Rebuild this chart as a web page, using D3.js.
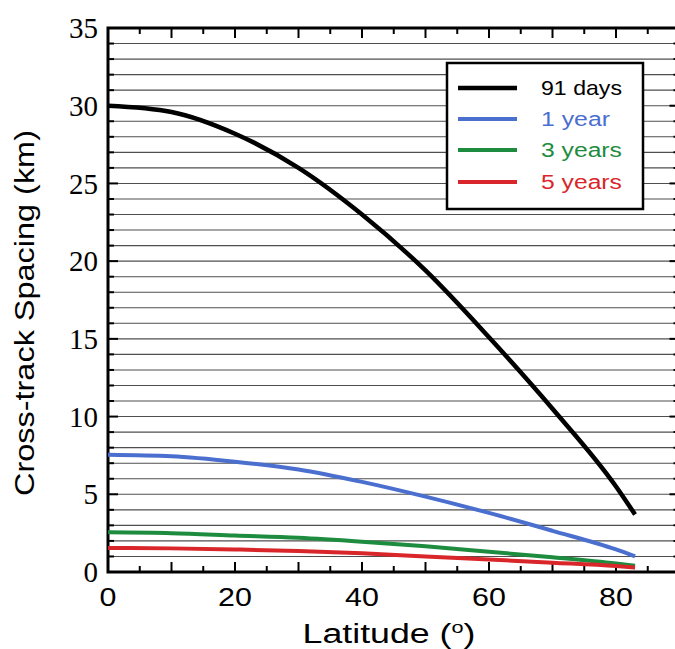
<!DOCTYPE html>
<html><head><meta charset="utf-8">
<script src="https://cdn.jsdelivr.net/npm/d3@7/dist/d3.min.js"></script>
<style>body{margin:0;background:#fff}svg{display:block}</style>
</head><body>
<script>
const latitudes = [0, 10, 20, 30, 40, 50, 60, 70, 80, 83];
const days91 = [30.0, 29.6, 28.2, 26.0, 23.0, 19.4, 15.1, 10.5, 5.5, 3.7];
const year1 = [7.55, 7.45, 7.1, 6.6, 5.8, 4.85, 3.8, 2.65, 1.45, 1.0];
const years3 = [2.55, 2.5, 2.35, 2.2, 1.95, 1.65, 1.3, 0.95, 0.55, 0.4];
const years5 = [1.55, 1.52, 1.45, 1.35, 1.2, 1.0, 0.8, 0.6, 0.38, 0.28];
const seriesNames = ["91 days", "1 year", "3 years", "5 years"];
const seriesColors = ["#000000", "#4a6fcf", "#1e8c3e", "#d9262a"];
const seriesValues = [days91, year1, years3, years5];
const xTickLabels = [0, 20, 40, 60, 80];
const yTickLabels = [0, 5, 10, 15, 20, 25, 30, 35];

const W = 675, H = 649;
const m = {left: 108, top: 28, bottom: 77};
const plotW = 571.5, plotH = H - m.top - m.bottom;
const SANS = "Liberation Sans, Arial, sans-serif";
const svg = d3.select("body").append("svg").attr("width", W).attr("height", H);
const x = d3.scaleLinear().domain([0, 90]).range([m.left, m.left + plotW]);
const y = d3.scaleLinear().domain([0, 35]).range([m.top + plotH, m.top]);

// stretch a text element horizontally (in its own frame) to a target width
function stretch(sel, tx, ty, rot, target, anchor) {
  const w = sel.node().getBBox().width;
  const s = target / w;
  sel.attr("x", 0).attr("y", 0).attr("text-anchor", anchor)
    .attr("transform", `translate(${tx},${ty}) rotate(${rot}) scale(${s},1)`);
}

// gridlines every 1 km
const grid = svg.append("g");
d3.range(1, 35).forEach(v => {
  grid.append("line").attr("x1", x(0)).attr("x2", x(90)).attr("y1", y(v)).attr("y2", y(v))
    .attr("stroke", "#4f4f4f").attr("stroke-width", 1.1);
});

// inward ticks
const ticks = svg.append("g").attr("stroke", "#000").attr("stroke-width", 2);
d3.range(0, 36).forEach(v => {
  const len = v % 5 === 0 ? 10 : 6;
  ticks.append("line").attr("x1", x(0)).attr("x2", x(0) + len).attr("y1", y(v)).attr("y2", y(v));
  ticks.append("line").attr("x1", x(90)).attr("x2", x(90) - len).attr("y1", y(v)).attr("y2", y(v));
});
d3.range(0, 91, 5).forEach(v => {
  const len = v % 10 === 0 ? 10 : 6;
  ticks.append("line").attr("x1", x(v)).attr("x2", x(v)).attr("y1", y(0)).attr("y2", y(0) - len);
  ticks.append("line").attr("x1", x(v)).attr("x2", x(v)).attr("y1", y(35)).attr("y2", y(35) + len);
});

// frame
svg.append("rect").attr("x", x(0)).attr("y", y(35)).attr("width", plotW).attr("height", plotH)
  .attr("fill", "none").attr("stroke", "#000").attr("stroke-width", 3);

// series
const line = d3.line().x((d, i) => x(latitudes[i])).y(d => y(d)).curve(d3.curveMonotoneX);
seriesValues.forEach((vals, k) => {
  svg.append("path").datum(vals).attr("d", line).attr("fill", "none")
    .attr("stroke", seriesColors[k]).attr("stroke-width", k === 0 ? 4.5 : 4);
});

// y tick labels
svg.append("g").selectAll("text").data(yTickLabels).join("text")
  .attr("x", 98).attr("y", d => y(d)).attr("dy", "0.35em").attr("text-anchor", "end")
  .attr("font-family", "Liberation Serif, Times New Roman, serif").attr("font-size", 29)
  .text(d => d);
// x tick labels
svg.append("g").selectAll("text").data(xTickLabels).join("text")
  .attr("font-family", SANS).attr("font-size", 26).text(d => d)
  .each(function(d) {
    const t = d3.select(this);
    t.attr("text-anchor", "middle").attr("transform", `translate(${x(d)},606) scale(1.17,1)`);
  });

// axis titles
const xt = svg.append("text").attr("font-family", SANS).attr("font-size", 28);
xt.append("tspan").text("Latitude (");
xt.append("tspan").attr("font-size", 17).attr("dy", -10).text("o");
xt.append("tspan").attr("dy", 10).text(")");
stretch(xt, 389, 643, 0, 173, "middle");

const yt = svg.append("text").attr("font-family", SANS).attr("font-size", 28)
  .text("Cross-track Spacing (km)");
stretch(yt, 34, 313, -90, 366, "middle");

// legend
const lg = svg.append("g");
lg.append("rect").attr("x", 447).attr("y", 63).attr("width", 196).attr("height", 146)
  .attr("fill", "#fff").attr("stroke", "#000").attr("stroke-width", 2.5);
const rowsY = [88, 119, 150, 182];
const legendWidths = [81, 69, 81, 81];
seriesNames.forEach((n, k) => {
  lg.append("line").attr("x1", 458).attr("x2", 517).attr("y1", rowsY[k]).attr("y2", rowsY[k])
    .attr("stroke", seriesColors[k]).attr("stroke-width", k === 0 ? 4.5 : 4);
  const t = lg.append("text").attr("dy", "0.35em")
    .attr("font-family", SANS).attr("font-size", 21)
    .attr("fill", seriesColors[k]).text(n);
  stretch(t, 541, rowsY[k], 0, legendWidths[k], "start");
});
</script>
</body></html>
